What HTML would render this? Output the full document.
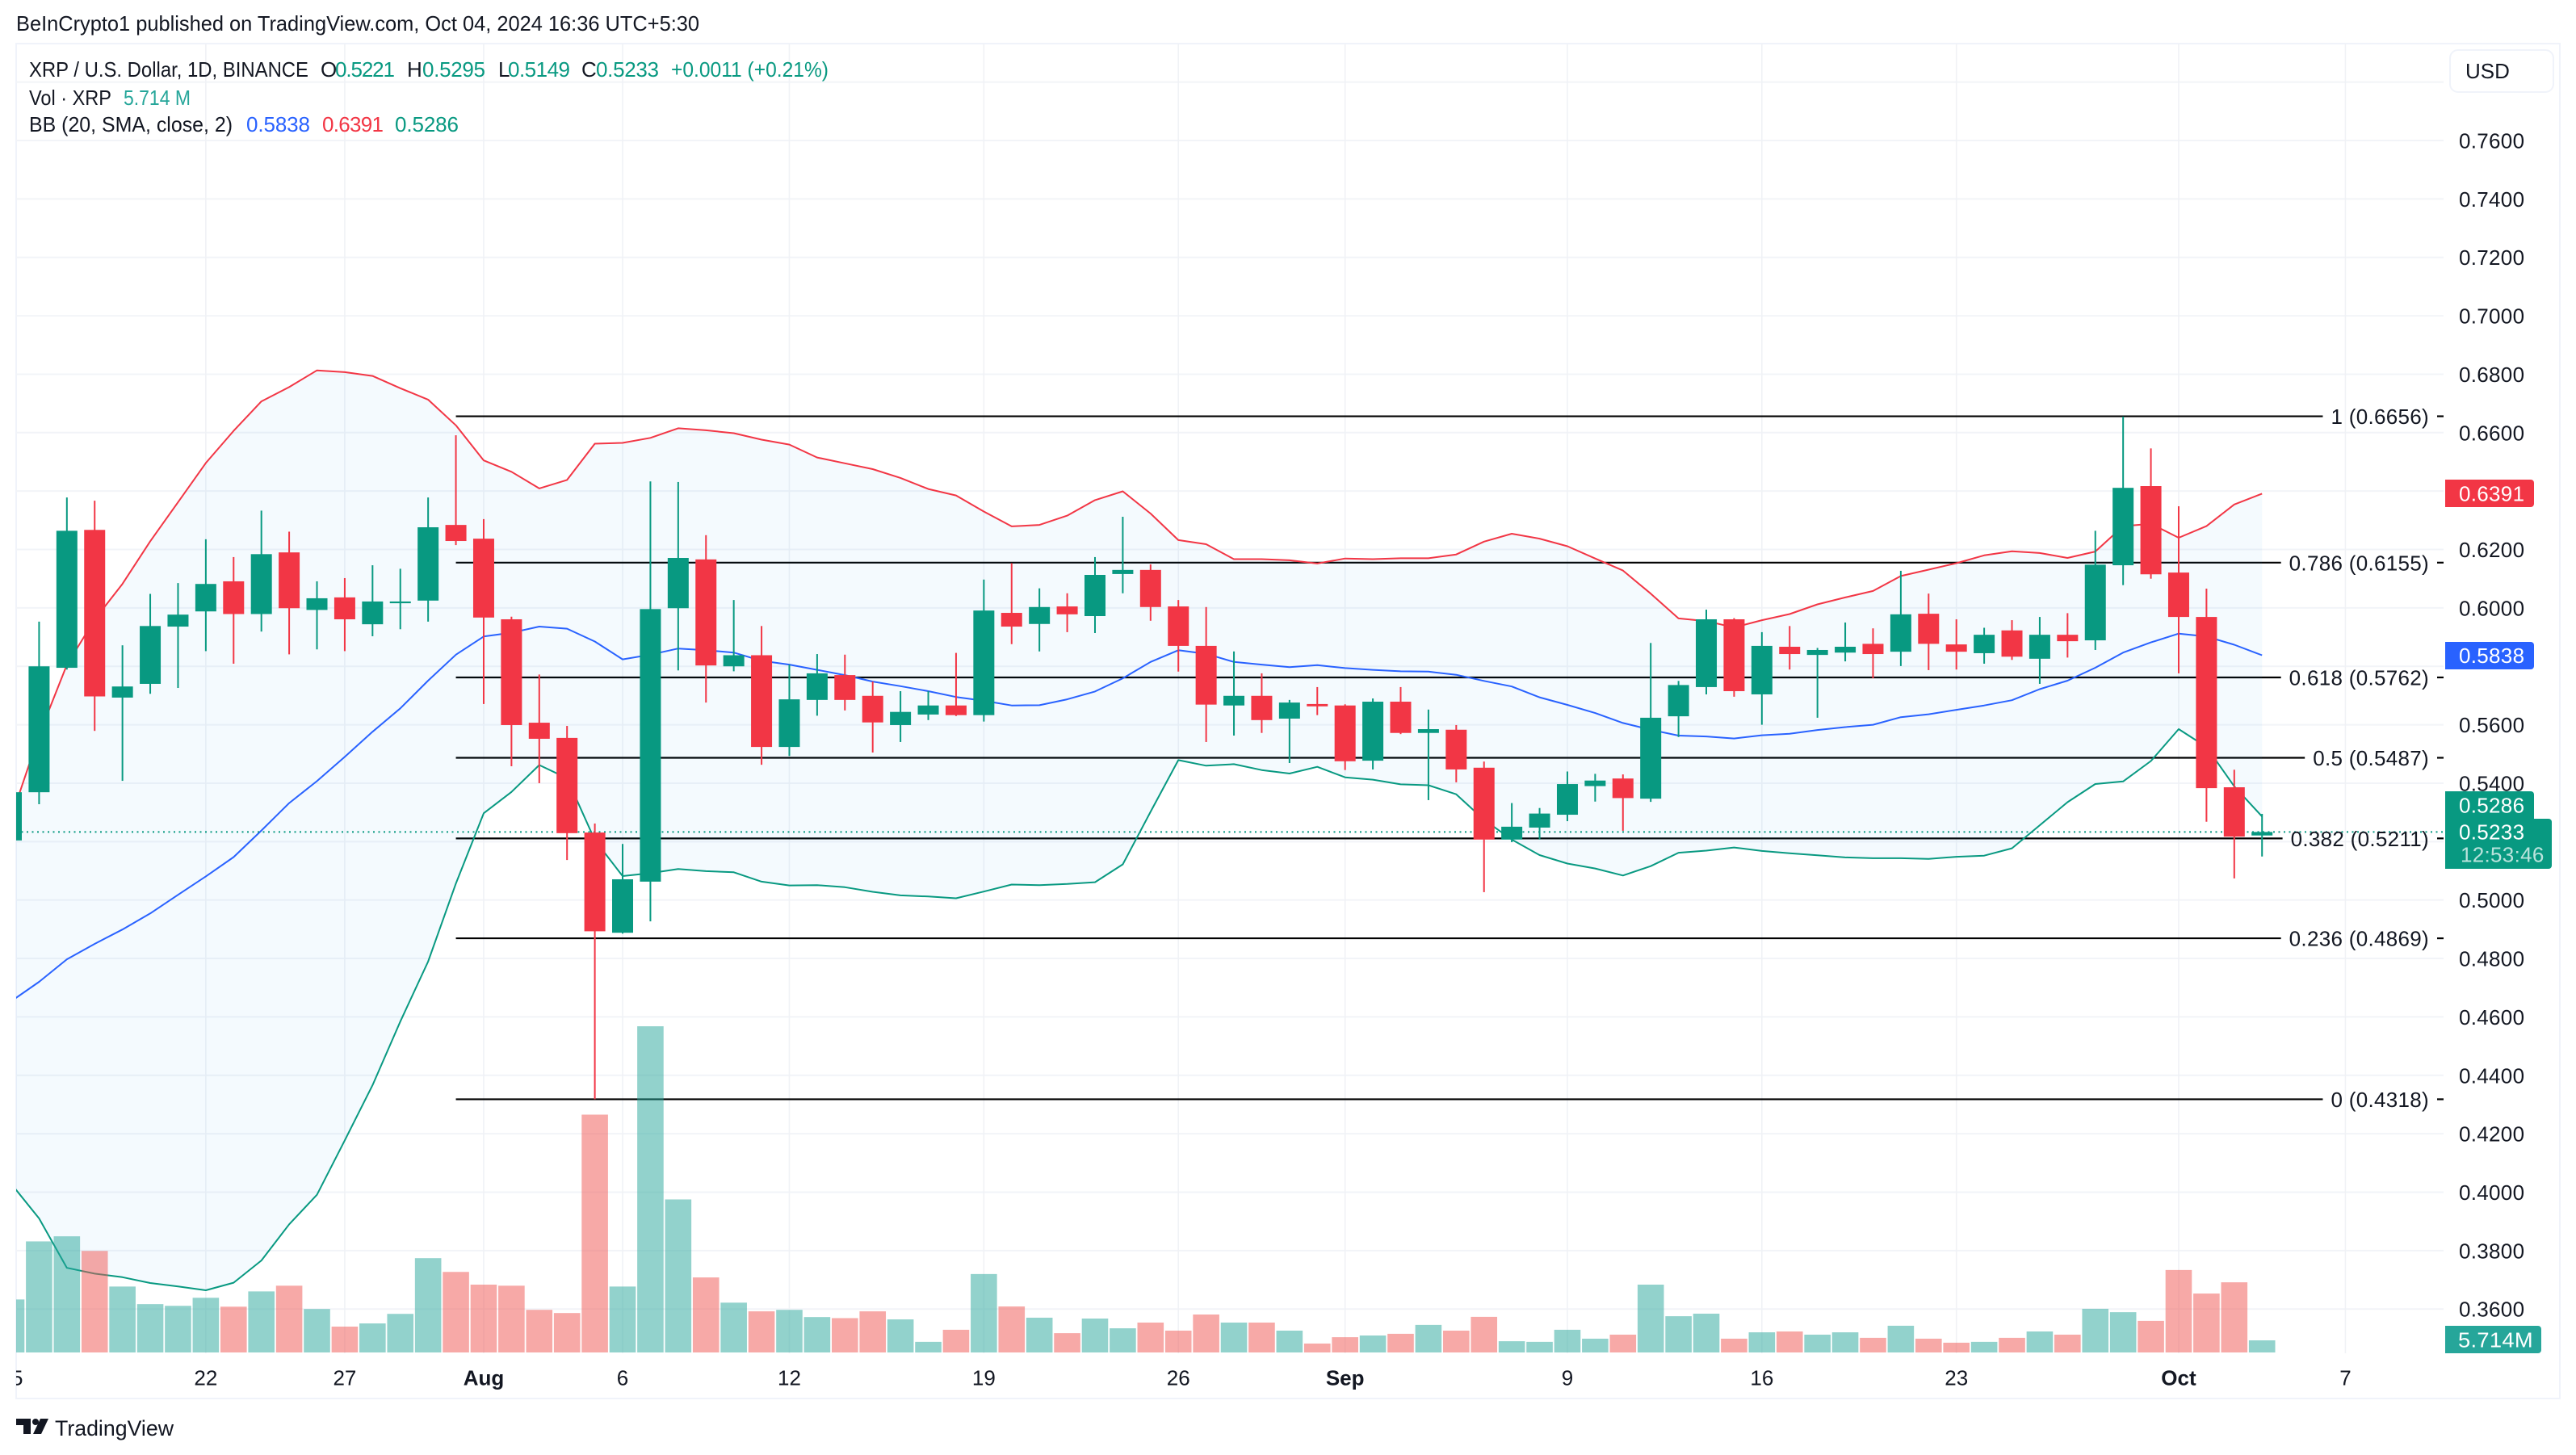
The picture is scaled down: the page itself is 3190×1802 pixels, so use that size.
<!DOCTYPE html>
<html lang="en">
<head>
<meta charset="utf-8">
<title>XRP / U.S. Dollar chart</title>
<style>
html,body{margin:0;padding:0;background:#fff;}
svg{display:block;}
text{font-family:"Liberation Sans",sans-serif;fill:#131722;}
</style>
</head>
<body>
<svg id="chart" xmlns="http://www.w3.org/2000/svg" width="3190" height="1802" viewBox="0 0 3190 1802">
  <defs>
    <clipPath id="plot-clip"><rect x="20" y="54" width="3006" height="1622"/></clipPath>
    <clipPath id="time-clip"><rect x="20" y="1676" width="3150" height="56"/></clipPath>
  </defs>
  <rect x="0" y="0" width="3190" height="1802" fill="#ffffff"/>
  <text x="20" y="38" font-size="26" textLength="846" lengthAdjust="spacingAndGlyphs">BeInCrypto1 published on TradingView.com, Oct 04, 2024 16:36 UTC+5:30</text>
  <rect x="20" y="54" width="3150" height="1678" fill="none" stroke="#f0f3fa" stroke-width="2"/>
  <g id="grid"></g>
  <g id="plot" clip-path="url(#plot-clip)">
    <g id="fib"></g>
    <g id="bb"></g>
    <g id="vol"></g>
    <line id="last-price-line" x1="20" x2="3026" stroke="#089981" stroke-width="2" stroke-dasharray="2 4.5"/>
    <g id="candles"></g>
  </g>
  <g id="fib-labels"></g>
  <g id="y-axis"></g>
  <g id="x-axis" clip-path="url(#time-clip)"></g>

  <g font-size="26">
    <text x="36" y="95" textLength="346" lengthAdjust="spacingAndGlyphs">XRP / U.S. Dollar, 1D, BINANCE</text>
    <text x="397" y="95">O</text>
    <text x="415" y="95" style="fill:#089981" textLength="74">0.5221</text>
    <text x="504" y="95">H</text>
    <text x="523" y="95" style="fill:#089981" textLength="78">0.5295</text>
    <text x="617" y="95">L</text>
    <text x="629" y="95" style="fill:#089981" textLength="77">0.5149</text>
    <text x="720" y="95">C</text>
    <text x="738" y="95" style="fill:#089981" textLength="78">0.5233</text>
    <text x="831" y="95" style="fill:#089981" textLength="195" lengthAdjust="spacingAndGlyphs">+0.0011 (+0.21%)</text>
    <text x="36" y="130" textLength="102" lengthAdjust="spacingAndGlyphs">Vol · XRP</text>
    <text x="153" y="130" style="fill:#26a69a" textLength="83" lengthAdjust="spacingAndGlyphs">5.714 M</text>
    <text x="36" y="163" textLength="252" lengthAdjust="spacingAndGlyphs">BB (20, SMA, close, 2)</text>
    <text x="305" y="163" style="fill:#2962ff" textLength="79">0.5838</text>
    <text x="399" y="163" style="fill:#f23645" textLength="76">0.6391</text>
    <text x="489" y="163" style="fill:#089981" textLength="79">0.5286</text>
  </g>

  <g>
    <rect x="3034" y="62" width="128" height="52" rx="10" fill="#fff" stroke="#f0f3fa" stroke-width="2"/>
    <text x="3053" y="97" font-size="26">USD</text>
  </g>

  <g font-size="26" letter-spacing=".3">
    <path fill="#f23645" d="M3028 594h106a4 4 0 0 1 4 4v26a4 4 0 0 1-4 4h-106z"/>
    <text x="3045" y="620.5" style="fill:#fff">0.6391</text>
    <path fill="#2962ff" d="M3028 795h106a4 4 0 0 1 4 4v26a4 4 0 0 1-4 4h-106z"/>
    <text x="3045" y="821" style="fill:#fff">0.5838</text>
    <path fill="#089981" d="M3028 980h106a4 4 0 0 1 4 4v30h-110z"/>
    <text x="3045" y="1006.5" style="fill:#fff">0.5286</text>
    <path fill="#089981" d="M3028 1014h128a4 4 0 0 1 4 4v54a4 4 0 0 1-4 4h-128z"/>
    <text x="3045" y="1039.5" style="fill:#fff">0.5233</text>
    <text x="3047" y="1067.5" style="fill:#fff;fill-opacity:.72">12:53:46</text>
    <path fill="#26a69a" d="M3028 1642h115a4 4 0 0 1 4 4v26a4 4 0 0 1-4 4h-115z"/>
    <text x="3044" y="1668.5" style="fill:#fff" textLength="93" lengthAdjust="spacingAndGlyphs">5.714M</text>
  </g>

  <g>
    <path fill="#131722" d="M20 1757h18v19h-9v-11h-9z"/>
    <circle cx="44" cy="1761" r="4" fill="#131722"/>
    <path fill="#131722" d="M50 1757h10l-9 19h-10z"/>
    <text x="68" y="1778" font-size="27" textLength="147" lengthAdjust="spacingAndGlyphs">TradingView</text>
  </g>
</svg>

<script>
const opens=[.5204,.5369,.5795,.6267,.5693,.5740,.5936,.5988,.6091,.5979,.6190,.5993,.6036,.5944,.6016,.6025,.6284,.6237,.5961,.5607,.5555,.5231,.4888,.5063,.5999,.6166,.5800,.5838,.5524,.5685,.5770,.5699,.5599,.5635,.5666,.5633,.5983,.5945,.6005,.5972,.6116,.6130,.6005,.5870,.5666,.5699,.5621,.5671,.5666,.5477,.5679,.5572,.5583,.5453,.5207,.5248,.5292,.5390,.5416,.5347,.5629,.5729,.5961,.5704,.5867,.5839,.5847,.5877,.5850,.5980,.5875,.5845,.5923,.5826,.5908,.5889,.6146,.6417,.6121,.5969,.5386,.5221];
const highs=[.5369,.5953,.6378,.6367,.5872,.6048,.6085,.6235,.6174,.6333,.6261,.6091,.6102,.6146,.6134,.6378,.6591,.6304,.5970,.5772,.5596,.5262,.5192,.6433,.6431,.6249,.6027,.5938,.5806,.5842,.5840,.5748,.5715,.5715,.5846,.6097,.6153,.6067,.6050,.6174,.6312,.6149,.6027,.6003,.5851,.5776,.5685,.5729,.5670,.5690,.5729,.5652,.5599,.5474,.5332,.5315,.5440,.5432,.5430,.5880,.5750,.5994,.5965,.5917,.5938,.5863,.5950,.5930,.6127,.6049,.5961,.5932,.5958,.5969,.5982,.6264,.6655,.6546,.6348,.6066,.5446,.5295];
const lows=[.5204,.5328,.5789,.5579,.5408,.5706,.5726,.5852,.5809,.5919,.5841,.5858,.5852,.5903,.5927,.5953,.6215,.5671,.5458,.5400,.5137,.4318,.4885,.4927,.5786,.5676,.5783,.5463,.5493,.5631,.5649,.5505,.5541,.5616,.5630,.5611,.5876,.5851,.5917,.5914,.6050,.5956,.5782,.5541,.5563,.5572,.5469,.5633,.5445,.5447,.5568,.5342,.5403,.5027,.5198,.5207,.5270,.5337,.5237,.5336,.5558,.5704,.5696,.5600,.5789,.5624,.5817,.5759,.5801,.5787,.5789,.5809,.5822,.5740,.5830,.5856,.6078,.6100,.5776,.5268,.5074,.5149];
const closes=[.5369,.5800,.6264,.5697,.5731,.5938,.5977,.6082,.5979,.6184,.5999,.6033,.5961,.6022,.6022,.6276,.6229,.5967,.5599,.5552,.5229,.4893,.5071,.5996,.6171,.5803,.5838,.5524,.5687,.5776,.5685,.5608,.5644,.5666,.5633,.5991,.5936,.6003,.5978,.6113,.6130,.6003,.5870,.5669,.5699,.5616,.5676,.5663,.5475,.5679,.5572,.5585,.5447,.5207,.5251,.5296,.5397,.5409,.5349,.5624,.5736,.5961,.5715,.5870,.5842,.5856,.5867,.5842,.5978,.5877,.5850,.5908,.5833,.5908,.5886,.6148,.6411,.6115,.5969,.5383,.5217,.5233];
const volumes=[25.0,52.4,54.8,47.9,31.1,22.8,22.0,25.8,21.6,28.8,31.5,20.5,12.2,13.7,18.2,44.5,38.0,32.0,31.5,20.1,18.6,112.2,31.1,153.9,72.2,35.4,23.5,19.4,20.1,16.7,16.2,19.4,15.6,5.0,10.7,37.0,21.7,16.4,9.1,16.0,11.4,14.1,10.3,17.9,14.1,14.1,10.3,4.2,7.2,8.0,8.8,13.0,10.3,16.8,5.3,5.0,10.7,6.5,8.4,32.0,17.1,18.3,6.5,9.5,9.9,8.4,9.5,6.9,12.6,6.5,4.6,5.0,6.9,9.9,8.4,20.6,19.0,14.9,38.9,27.8,33.1,5.714];
const bbUpper=[.5283,.5565,.5805,.5960,.6082,.6228,.6362,.6496,.6606,.6707,.6756,.6813,.6807,.6794,.6752,.6713,.6625,.6505,.6466,.6409,.6438,.6562,.6565,.6582,.6615,.6608,.6598,.6576,.6559,.6515,.6495,.6475,.6445,.6407,.6385,.6330,.6279,.6284,.6316,.6369,.6399,.6323,.6232,.6218,.6167,.6167,.6163,.6152,.6169,.6167,.6170,.6170,.6183,.6227,.6254,.6237,.6211,.6169,.6128,.6049,.5964,.5955,.5933,.5958,.5979,.6012,.6036,.6058,.6109,.6131,.6153,.6180,.6194,.6188,.6171,.6193,.6280,.6288,.6240,.6280,.6354,.6391];
const bbBasis=[.4654,.4720,.4797,.4850,.4899,.4954,.5018,.5081,.5147,.5238,.5332,.5407,.5490,.5576,.5656,.5751,.5840,.5902,.5915,.5936,.5929,.5885,.5824,.5840,.5861,.5855,.5847,.5819,.5806,.5788,.5770,.5748,.5732,.5715,.5695,.5682,.5666,.5667,.5687,.5714,.5759,.5815,.5855,.5843,.5815,.5806,.5797,.5804,.5794,.5788,.5783,.5782,.5771,.5750,.5731,.5694,.5668,.5640,.5606,.5583,.5563,.5560,.5553,.5564,.5569,.5582,.5592,.5600,.5626,.5636,.5651,.5666,.5684,.5722,.5751,.5795,.5847,.5882,.5912,.5902,.5874,.5838];
const bbLower=[.4028,.3910,.3741,.3721,.3709,.3689,.3677,.3664,.3690,.3766,.3890,.3991,.4177,.4366,.4584,.4789,.5057,.5297,.5370,.5462,.5417,.5205,.5082,.5092,.5106,.5099,.5095,.5063,.5050,.5051,.5044,.5028,.5016,.5012,.5006,.5029,.5053,.5051,.5055,.5061,.5122,.5302,.5479,.5460,.5465,.5445,.5433,.5456,.5420,.5412,.5396,.5393,.5362,.5275,.5207,.5154,.5125,.5108,.5084,.5116,.5162,.5169,.5180,.5168,.5160,.5153,.5146,.5143,.5143,.5141,.5148,.5152,.5177,.5256,.5335,.5397,.5406,.5476,.5585,.5524,.5389,.5286];
const priceTicks=[0.76,0.74,0.72,0.70,0.68,0.66,0.64,0.62,0.60,0.58,0.56,0.54,0.52,0.50,0.48,0.46,0.44,0.42,0.40,0.38,0.36];
const gridOnlyPrices=[0.78];
const hiddenPriceLabels=[0.64,0.58,0.52];
const timeTickDays=[0,7,12,17,22,28,35,42,48,56,63,70,78,84];
const timeTickLabels=["15","22","27","Aug","6","12","19","26","Sep","9","16","23","Oct","7"];
const boldTimeLabels=["Aug","Sep","Oct"];
const fibRatios=["1","0.786","0.618","0.5","0.382","0.236","0"];
const fibPrices=[0.6656,0.6155,0.5762,0.5487,0.5211,0.4869,0.4318];
const fibStartDay=16;
const lastPrice=0.5233;

const NS="http://www.w3.org/2000/svg";
const GREEN="#089981",RED="#f23645";
function xAt(day){return 14+34.41*day;}
function yAt(price){return 174+(0.76-price)*3618;}
function volY(v){return 1675-v*2.625;}
function mk(tag,attrs,parent){
  const el=document.createElementNS(NS,tag);
  for(const k in attrs){el.setAttribute(k,attrs[k]);}
  parent.appendChild(el);
  return el;
}
function linePath(series){
  return series.map((p,i)=>(i?"L":"M")+xAt(i).toFixed(1)+" "+yAt(p).toFixed(1)).join("");
}

const gridG=document.getElementById("grid");
priceTicks.concat(gridOnlyPrices).forEach(p=>{
  const el=mk("line",{x1:20,x2:3026,y1:yAt(p),y2:yAt(p),stroke:"#f2f4f8","stroke-width":2},gridG);
  
  
});
timeTickDays.forEach(d=>{
  if(xAt(d)<20){return;}
  const el=mk("line",{x1:xAt(d),x2:xAt(d),y1:54,y2:1676,stroke:"#f0f2f6","stroke-width":1.6},gridG);
  
  
});

const fibG=document.getElementById("fib");
const fibLabelG=document.getElementById("fib-labels");
fibRatios.forEach((r,i)=>{
  const y=yAt(fibPrices[i]);
  const label=mk("text",{x:3008,y:y+9.5,"font-size":26,"text-anchor":"end","letter-spacing":".3"},fibLabelG);
  label.textContent=r+" ("+fibPrices[i].toFixed(4)+")";
  
  
  const start=3008-label.getComputedTextLength();
  const ln=mk("line",{x1:xAt(fibStartDay),x2:start-10,y1:y,y2:y,stroke:"#000","stroke-width":2.2},fibG);
  
  
  const tick=mk("line",{x1:3018,x2:3026,y1:y,y2:y,stroke:"#000","stroke-width":2.2},fibLabelG);
  
  
});

const bbG=document.getElementById("bb");
const fillD=linePath(bbUpper)+bbLower.slice().reverse().map((p,i)=>"L"+xAt(bbLower.length-1-i).toFixed(1)+" "+yAt(p).toFixed(1)).join("")+"Z";
const bbFill=mk("path",{d:fillD,fill:"#2196f3","fill-opacity":.05,stroke:"none"},bbG);


const upperLine=mk("path",{d:linePath(bbUpper),fill:"none",stroke:RED,"stroke-width":2,"stroke-linejoin":"round"},bbG);


const basisLine=mk("path",{d:linePath(bbBasis),fill:"none",stroke:"#2962ff","stroke-width":2,"stroke-linejoin":"round"},bbG);


const lowerLine=mk("path",{d:linePath(bbLower),fill:"none",stroke:GREEN,"stroke-width":2,"stroke-linejoin":"round"},bbG);



const volG=document.getElementById("vol");
volumes.forEach((v,i)=>{
  const up=closes[i]>=opens[i];
  const bar=mk("rect",{x:xAt(i)-16.3,y:volY(v),width:32.6,height:1675-volY(v),fill:up?"#26a69a":"#ef5350","fill-opacity":.5},volG);
  
  
});

const pl=document.getElementById("last-price-line");
pl.setAttribute("y1",yAt(lastPrice));
pl.setAttribute("y2",yAt(lastPrice));

const cG=document.getElementById("candles");
opens.forEach((o,i)=>{
  const c=closes[i],up=c>=o,col=up?GREEN:RED;
  const x=xAt(i);
  const wick=mk("rect",{x:x-1,y:yAt(highs[i]),width:2,height:yAt(lows[i])-yAt(highs[i]),fill:col},cG);
  
  
  const top=yAt(Math.max(o,c)),bot=yAt(Math.min(o,c));
  const body=mk("rect",{x:x-13,y:top,width:26,height:Math.max(bot-top,2),fill:col},cG);
  
  
});

const yG=document.getElementById("y-axis");
priceTicks.forEach(p=>{
  if(hiddenPriceLabels.includes(p)){return;}
  const t=mk("text",{x:3045,y:yAt(p)+9.5,"font-size":26,"letter-spacing":".3"},yG);
  t.textContent=p.toFixed(4);
  
  
});

const xG=document.getElementById("x-axis");
timeTickLabels.forEach((lab,i)=>{
  const t=mk("text",{x:xAt(timeTickDays[i]),y:1715.5,"font-size":26,"text-anchor":"middle","font-weight":boldTimeLabels.includes(lab)?"bold":"normal"},xG);
  t.textContent=lab;
  
  
});
</script>
</body>
</html>
